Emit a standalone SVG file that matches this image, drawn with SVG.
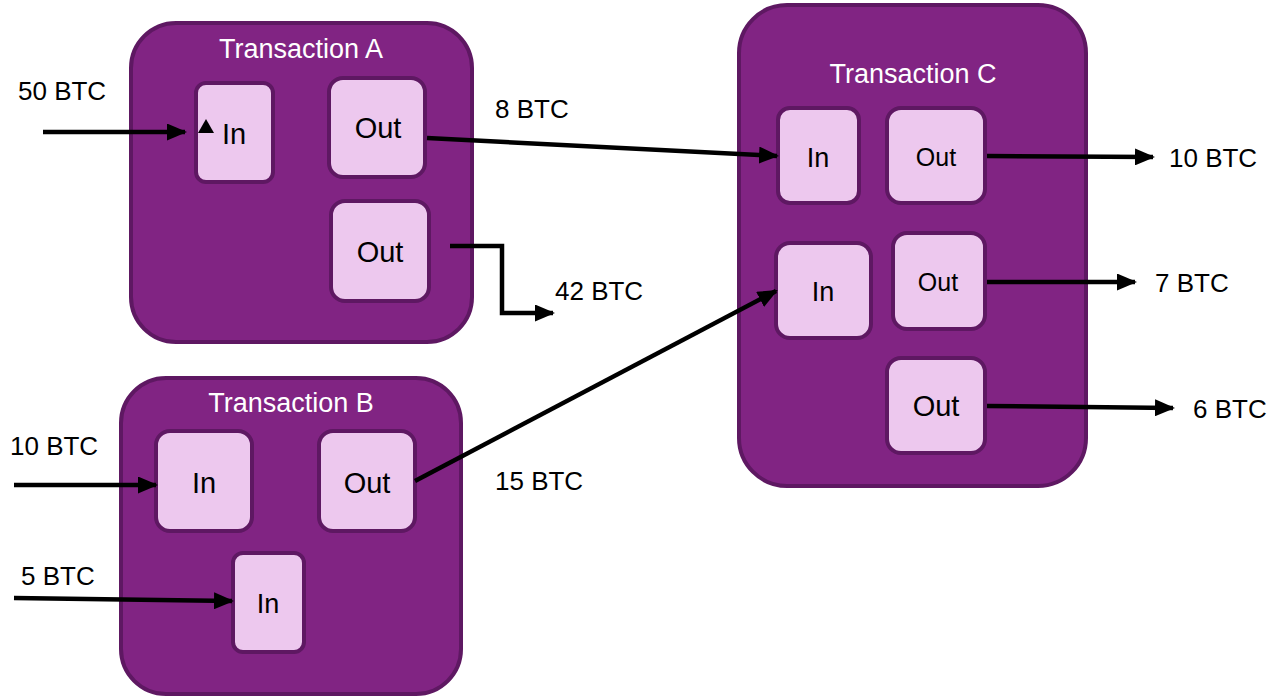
<svg xmlns="http://www.w3.org/2000/svg" width="1269" height="698" viewBox="0 0 1269 698">
<defs>
<style>
.tx{fill:#812483;stroke:#5E1862;stroke-width:4}
.io{fill:#EDC8EE;stroke:#5E1862;stroke-width:4}
.title{font-family:"Liberation Sans",Arial,sans-serif;font-size:27px;fill:#FFFFFF;text-anchor:middle}
.big{font-family:"Liberation Sans",Arial,sans-serif;font-size:29px;fill:#000;text-anchor:middle}
.sm{font-family:"Liberation Sans",Arial,sans-serif;font-size:27px;fill:#000;text-anchor:middle}
.xs{font-family:"Liberation Sans",Arial,sans-serif;font-size:25px;fill:#000;text-anchor:middle}
.lbl{font-family:"Liberation Sans",Arial,sans-serif;font-size:26px;fill:#000}
.c{fill:none;stroke:#000;stroke-width:4.5;marker-end:url(#ah)}
</style>
<marker id="ah" markerUnits="userSpaceOnUse" markerWidth="20" markerHeight="17" refX="18" refY="8.5" orient="auto">
<path d="M0,0 L20,8.5 L0,17 z" fill="#000"/>
</marker>
</defs>
<rect width="1269" height="698" fill="#FFFFFF"/>

<g id="txA">
<rect class="tx" x="131" y="23" width="341" height="319" rx="45"/>
<text class="title" x="301" y="58">Transaction A</text>
<g id="txA-in"><rect class="io" x="196" y="83" width="77" height="99" rx="10"/><text class="big" x="234" y="144">In</text></g>
<g id="txA-out1"><rect class="io" x="329" y="78" width="96" height="99" rx="14"/><text class="big" x="378" y="138">Out</text></g>
<g id="txA-out2"><rect class="io" x="331" y="201" width="98" height="100" rx="14"/><text class="big" x="380" y="262">Out</text></g>
<polygon points="198,133 206,119 214,133" fill="#000"/>
</g>

<g id="txB">
<rect class="tx" x="121" y="378" width="340" height="316" rx="45"/>
<text class="title" x="291" y="412">Transaction B</text>
<g id="txB-in1"><rect class="io" x="156" y="431" width="96" height="100" rx="14"/><text class="big" x="204" y="493">In</text></g>
<g id="txB-out"><rect class="io" x="319" y="431" width="96" height="100" rx="14"/><text class="big" x="367" y="493">Out</text></g>
<g id="txB-in2"><rect class="io" x="233" y="553" width="71" height="99" rx="10"/><text class="sm" x="268" y="613">In</text></g>
</g>

<g id="txC">
<rect class="tx" x="739" y="5" width="347" height="481" rx="48"/>
<text class="title" x="913" y="83">Transaction C</text>
<g id="txC-in1"><rect class="io" x="778" y="108" width="81" height="95" rx="12"/><text class="sm" x="818" y="167">In</text></g>
<g id="txC-out1"><rect class="io" x="887" y="108" width="98" height="95" rx="14"/><text class="xs" x="936" y="166">Out</text></g>
<g id="txC-in2"><rect class="io" x="776" y="243" width="95" height="95" rx="14"/><text class="sm" x="823" y="301">In</text></g>
<g id="txC-out2"><rect class="io" x="893" y="233" width="92" height="96" rx="14"/><text class="xs" x="938" y="291">Out</text></g>
<g id="txC-out3"><rect class="io" x="887" y="358" width="98" height="95" rx="14"/><text class="big" x="936" y="416">Out</text></g>
</g>

<g id="connectors">
<line class="c" x1="43" y1="132" x2="185" y2="132"/>
<line class="c" x1="427" y1="138" x2="777" y2="156"/>
<polyline class="c" points="450,246 502,246 502,313 553,313"/>
<line class="c" x1="14" y1="485" x2="156" y2="485"/>
<line class="c" x1="14" y1="598" x2="232" y2="601"/>
<line class="c" x1="415" y1="481" x2="776" y2="291"/>
<line class="c" x1="987" y1="156" x2="1153" y2="157"/>
<line class="c" x1="987" y1="282" x2="1135" y2="282"/>
<line class="c" x1="987" y1="406" x2="1173" y2="408"/>
</g>

<g id="labels">
<text class="lbl" x="18" y="100">50 BTC</text>
<text class="lbl" x="495" y="118">8 BTC</text>
<text class="lbl" x="555" y="300">42 BTC</text>
<text class="lbl" x="10" y="455">10 BTC</text>
<text class="lbl" x="21" y="585">5 BTC</text>
<text class="lbl" x="495" y="490">15 BTC</text>
<text class="lbl" x="1169" y="167">10 BTC</text>
<text class="lbl" x="1155" y="292">7 BTC</text>
<text class="lbl" x="1193" y="418">6 BTC</text>
</g>
</svg>
